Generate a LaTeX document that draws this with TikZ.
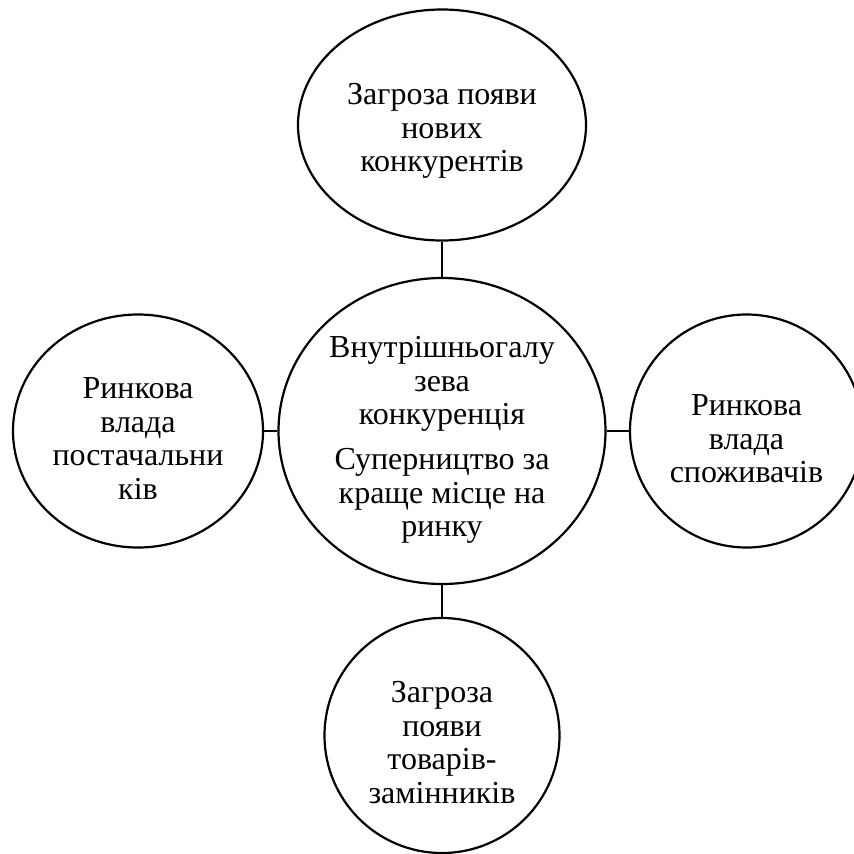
\documentclass[tikz,border=0pt]{standalone}
\usepackage{fontspec}
\setmainfont{Liberation Serif}
\usetikzlibrary{shapes.geometric}
\begin{document}
\begin{tikzpicture}[x=1pt,y=-1pt,
  bubble/.style={draw=black, line width=2.2pt, ellipse, inner sep=0pt},
  txt/.style={inner sep=0pt, align=center, font=\fontsize{32}{33.5}\selectfont},
  link/.style={line width=2.2pt}]
\clip (0,0) rectangle (854,854);
\useasboundingbox (0,0) rectangle (854,854);
\node[bubble, minimum width=288pt, minimum height=231pt] (top) at (442,125) {};
\node[bubble, minimum width=327pt, minimum height=306pt] (mid) at (442,431) {};
\node[bubble, minimum width=250pt, minimum height=233pt] (left) at (138,431) {};
\node[bubble, minimum width=233pt, minimum height=233pt] (right) at (746.5,431) {};
\node[bubble, minimum width=235pt, minimum height=235pt] (bot) at (442,735.5) {};
\node[txt] (topT) at (442,131) {Загроза появи\\нових\\конкурентів};
\node[txt] (midT) at (442,440)
  {Внутрішньогалу\\зева\\конкуренція\\[11.5pt]Суперництво за\\краще місце на\\ринку};
\node[txt] (leftT) at (138,438.5) {Ринкова\\влада\\постачальни\\ків};
\node[txt] (rightT) at (746.5,439) {Ринкова\\влада\\споживачів};
\node[txt] (botT) at (442,742.5) {Загроза\\появи\\товарів-\\замінників};
\draw[link] (top.south) -- (mid.north);
\draw[link] (mid.south) -- (bot.north);
\draw[link] (left.east) -- (mid.west);
\draw[link] (mid.east) -- (right.west);
\end{tikzpicture}
\end{document}
